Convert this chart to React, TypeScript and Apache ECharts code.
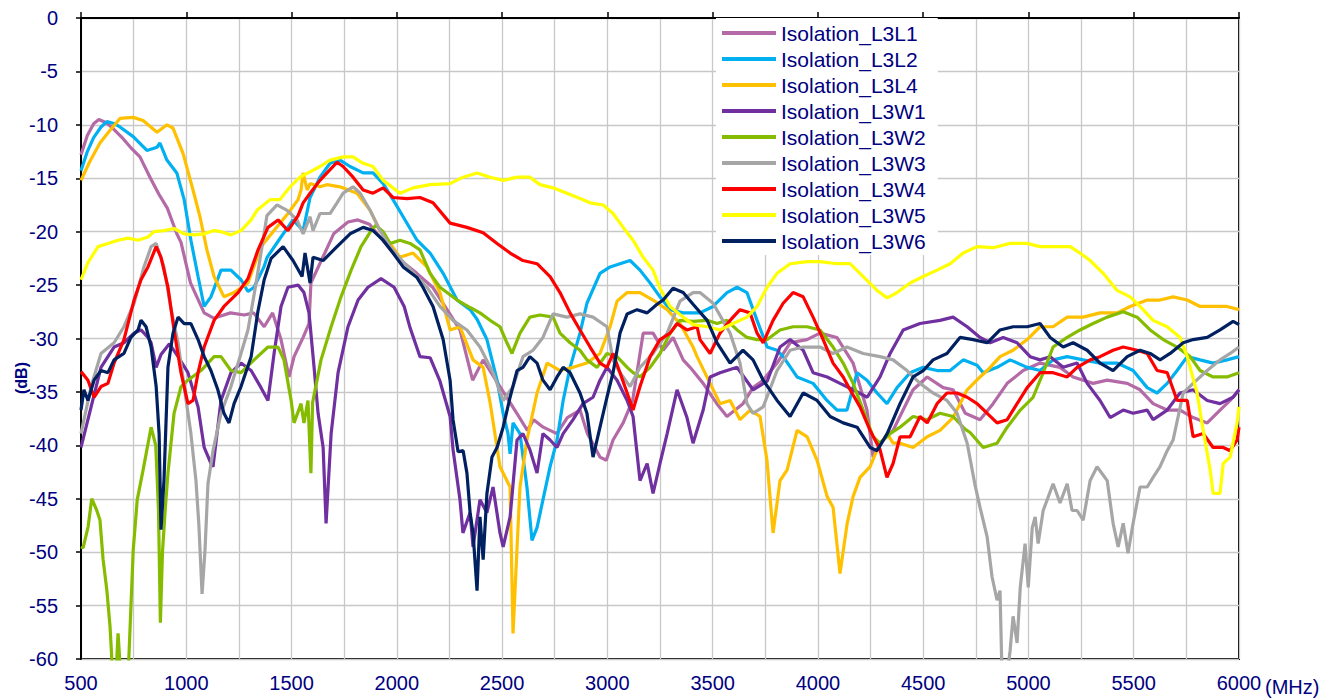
import React, { useEffect, useRef } from "react";
import * as echarts from "echarts";

type Pt = [number, number];

const seriesNames = [
  "Isolation_L3L1",
  "Isolation_L3L2",
  "Isolation_L3L4",
  "Isolation_L3W1",
  "Isolation_L3W2",
  "Isolation_L3W3",
  "Isolation_L3W4",
  "Isolation_L3W5",
  "Isolation_L3W6",
];

const seriesColors = [
  "#B36AA6",
  "#00B0F0",
  "#FFC000",
  "#7030A0",
  "#86BC00",
  "#A6A6A6",
  "#FF0000",
  "#FFFF00",
  "#002060",
];

// [MHz, dB]
const l3l1: Pt[] = [[500,-12.8],[530,-11],[560,-9.9],[585,-9.5],[620,-9.8],[650,-10.3],[700,-11.3],[735,-12.1],[780,-13],[830,-15],[870,-16.5],[910,-17.8],[955,-20.2],[975,-21],[1020,-24.8],[1085,-27.6],[1130,-28.1],[1210,-27.6],[1275,-27.8],[1320,-27.6],[1370,-28.9],[1410,-27.6],[1450,-30.1],[1488,-33.6],[1512,-31.7],[1555,-29.9],[1583,-28.6],[1592,-24.8],[1606,-24.2],[1672,-21.4],[1700,-20.2],[1768,-19.1],[1815,-18.9],[1870,-19.3],[1920,-20.5],[2000,-22.4],[2095,-23.9],[2170,-25.2],[2300,-29.2],[2360,-33.9],[2410,-32],[2490,-34.5],[2570,-37],[2620,-38.6],[2650,-37.6],[2695,-38.3],[2760,-38.9],[2810,-37.4],[2870,-36.7],[2905,-38.9],[2965,-41.1],[2995,-41.4],[3027,-39.5],[3075,-37.9],[3120,-35.8],[3170,-29.5],[3217,-29.5],[3265,-31.1],[3312,-29.9],[3360,-32],[3393,-32.7],[3455,-34.2],[3520,-36.1],[3568,-37.3],[3644,-36.1],[3692,-34.6],[3740,-33.9],[3806,-32.3],[3868,-30.4],[3948,-30.1],[4010,-29.5],[4090,-29.9],[4167,-32.3],[4233,-36.7],[4262,-41.1],[4295,-39.8],[4357,-38.6],[4452,-34.8],[4519,-33.6],[4595,-34.6],[4642,-34.8],[4700,-37],[4770,-37.6],[4832,-36.1],[4899,-34.2],[4975,-33],[5055,-32.3],[5150,-32.7],[5212,-33.6],[5307,-34.2],[5374,-33.9],[5469,-34.2],[5530,-34.8],[5592,-36.1],[5659,-36.7],[5720,-36.7],[5782,-37.4],[5849,-37.9],[5910,-36.7],[5958,-35.8],[6000,-34.8]];

const l3l2: Pt[] = [[500,-14.3],[530,-12.5],[560,-11.2],[595,-10.2],[623,-9.7],[660,-9.9],[685,-10.2],[748,-11.1],[813,-12.4],[861,-12.1],[875,-11.7],[908,-13.3],[955,-14.5],[990,-17],[1022,-20.8],[1056,-24.2],[1085,-27],[1117,-26.1],[1165,-23.6],[1212,-23.6],[1260,-24.5],[1293,-25.6],[1322,-25.2],[1369,-23.3],[1384,-22.4],[1450,-20.5],[1507,-18.9],[1555,-19.9],[1588,-16.8],[1635,-14.9],[1683,-13.6],[1730,-13.3],[1778,-13.9],[1840,-14.5],[1887,-14.5],[1935,-15.5],[1982,-17],[2030,-18.6],[2096,-20.8],[2158,-22],[2220,-23.9],[2286,-26.4],[2348,-27.3],[2381,-28.2],[2428,-30.1],[2476,-33.9],[2505,-37],[2528,-38.9],[2538,-40.8],[2552,-37.9],[2585,-38.9],[2618,-43.9],[2642,-48.9],[2666,-47.7],[2694,-45.1],[2728,-42],[2761,-39.5],[2790,-35.8],[2823,-32.7],[2870,-29.5],[2903,-26.7],[2965,-23.9],[3013,-23.3],[3060,-23],[3108,-22.7],[3155,-23.6],[3203,-24.8],[3250,-26.1],[3298,-27.3],[3360,-27.6],[3440,-27.6],[3502,-27],[3568,-25.7],[3616,-25.2],[3663,-25.7],[3711,-28.3],[3759,-30.8],[3806,-31.1],[3835,-31.7],[3901,-33.6],[3977,-34.2],[4043,-35.8],[4091,-36.7],[4138,-36.7],[4186,-33.2],[4233,-33.9],[4281,-35.1],[4328,-36.1],[4376,-34.6],[4438,-33.2],[4500,-32.7],[4566,-33],[4628,-33],[4690,-32],[4756,-32.5],[4785,-33.2],[4851,-32.7],[4913,-32],[4994,-32.7],[5055,-33],[5117,-32],[5184,-31.7],[5260,-32],[5340,-32.3],[5421,-32.3],[5497,-33],[5564,-34.6],[5611,-35.1],[5659,-34.2],[5706,-33],[5754,-31.7],[5815,-32],[5877,-32.3],[5943,-32],[6000,-31.7]];

const l3l4: Pt[] = [[500,-15.2],[540,-13.5],[590,-11.7],[638,-10.5],[685,-9.4],[748,-9.3],[795,-9.6],[861,-10.7],[908,-10],[937,-10.3],[985,-12.7],[1032,-16.1],[1065,-18.6],[1098,-21.7],[1132,-24.2],[1179,-26.1],[1227,-25.7],[1293,-24.8],[1355,-21.4],[1417,-19.9],[1483,-18.3],[1531,-17],[1545,-16.1],[1555,-14.5],[1574,-16.1],[1588,-15.5],[1635,-15.8],[1668,-15.6],[1730,-15.8],[1811,-16.4],[1873,-18],[1920,-19.9],[1968,-21.1],[2015,-22.4],[2077,-22],[2143,-23.3],[2205,-25.7],[2253,-29.2],[2300,-28.9],[2362,-32],[2410,-32.7],[2443,-36],[2490,-42],[2538,-43.9],[2552,-57.6],[2570,-50],[2585,-43.9],[2618,-39.5],[2666,-35.1],[2714,-32.3],[2775,-33],[2837,-32.7],[2903,-32.3],[2965,-31.4],[3013,-28.9],[3046,-26.5],[3094,-25.7],[3155,-25.7],[3217,-26.4],[3284,-27.3],[3345,-28.6],[3407,-30.8],[3426,-31.7],[3488,-34.2],[3535,-36.1],[3583,-35.8],[3630,-37.6],[3678,-36.7],[3725,-37.3],[3758,-41.4],[3787,-48.2],[3820,-43.3],[3854,-42.3],[3901,-38.6],[3949,-39.2],[3996,-41.4],[4044,-44.8],[4072,-45.8],[4105,-52],[4139,-47.3],[4167,-44.8],[4200,-43],[4248,-42],[4281,-40.4],[4329,-38.9],[4357,-39.8],[4390,-39.8],[4452,-40.2],[4519,-39.2],[4580,-38.6],[4642,-37.4],[4709,-34.8],[4770,-33.6],[4804,-33],[4865,-31.7],[4927,-31.1],[4994,-30.1],[5055,-28.9],[5117,-28.9],[5184,-28],[5260,-28],[5340,-27.6],[5421,-27.6],[5483,-27],[5564,-26.4],[5625,-26.4],[5687,-26.1],[5754,-26.4],[5815,-27],[5877,-27],[5943,-27],[6000,-27.3]];

const l3w1: Pt[] = [[500,-40.2],[548,-36.4],[595,-32.7],[657,-30.8],[704,-30.4],[752,-29.5],[785,-29.2],[818,-29.9],[833,-30.4],[857,-32.7],[880,-31.5],[920,-30.5],[961,-31.7],[1008,-33.2],[1056,-36.4],[1085,-40.2],[1117,-41.7],[1127,-42],[1165,-35.8],[1212,-33.2],[1260,-32.3],[1308,-33],[1355,-34.6],[1388,-35.8],[1417,-31.4],[1450,-27],[1483,-25.2],[1531,-25],[1559,-25.7],[1583,-27.6],[1607,-32.7],[1626,-37],[1650,-40.2],[1664,-47.3],[1688,-38.9],[1721,-33.2],[1768,-28.9],[1816,-26.4],[1863,-25.2],[1925,-24.4],[1987,-25.2],[2035,-27],[2063,-29],[2110,-31.7],[2158,-31.8],[2205,-34],[2253,-37.3],[2267,-40.4],[2300,-45.1],[2314,-48.2],[2348,-46.3],[2362,-49.5],[2395,-45.1],[2428,-46.3],[2457,-43.9],[2490,-48.2],[2505,-49.5],[2538,-46.7],[2571,-39.5],[2599,-38.9],[2632,-40.4],[2666,-42.6],[2694,-38.9],[2728,-39.5],[2761,-40.2],[2790,-38.9],[2837,-37.6],[2884,-36.1],[2932,-35.5],[2965,-33.9],[2998,-32.7],[3046,-33.9],[3094,-35.8],[3122,-37.3],[3155,-43.3],[3189,-41.7],[3217,-44.5],[3250,-41.7],[3284,-38.9],[3331,-34.8],[3378,-37.4],[3407,-39.8],[3455,-36.7],[3488,-33.6],[3535,-33.2],[3616,-32.7],[3692,-34.8],[3759,-34],[3820,-30.8],[3868,-30.1],[3930,-31.1],[3977,-33.2],[4044,-33.6],[4105,-34.2],[4167,-34.8],[4234,-35.5],[4295,-33.6],[4343,-31.4],[4405,-29.2],[4485,-28.6],[4580,-28.3],[4642,-28],[4709,-28.9],[4770,-29.9],[4818,-30.4],[4880,-29.9],[4946,-30.4],[5008,-31.7],[5055,-32],[5103,-31.7],[5165,-32.7],[5231,-32.3],[5279,-34.2],[5340,-35.8],[5388,-37.4],[5450,-36.7],[5497,-37],[5564,-36.7],[5592,-37.6],[5659,-36.7],[5720,-35.1],[5782,-34.8],[5849,-35.8],[5910,-36.1],[5972,-35.5],[6000,-34.8]];

const l3w2: Pt[] = [[500,-49.5],[510,-49.6],[534,-47.6],[551,-45],[575,-46.1],[590,-47],[605,-50.7],[623,-53.6],[638,-57],[652,-62],[665,-62],[676,-57.6],[690,-62],[723,-62],[748,-49.8],[767,-45.1],[795,-42.3],[833,-38.3],[855,-40],[868,-46],[877,-56.6],[887,-50],[900,-46],[913,-42.6],[942,-37],[975,-34.5],[1008,-33.9],[1070,-33],[1132,-31.7],[1165,-31.7],[1212,-33],[1260,-33.2],[1322,-32],[1388,-30.8],[1436,-30.8],[1464,-32],[1498,-35.8],[1512,-37.9],[1545,-36.1],[1559,-37.9],[1578,-35.8],[1592,-42.6],[1600,-36],[1640,-32],[1688,-28.9],[1735,-26.1],[1783,-23.6],[1830,-21.4],[1878,-19.9],[1900,-19.4],[1935,-20],[1968,-21.1],[2015,-20.8],[2063,-21.1],[2110,-21.7],[2158,-23.9],[2205,-25.2],[2286,-26.4],[2348,-27.1],[2395,-27.6],[2443,-28.3],[2490,-28.9],[2523,-30.4],[2547,-31.4],[2585,-29.5],[2632,-28],[2680,-27.8],[2742,-28],[2775,-29.5],[2823,-30.4],[2870,-31.1],[2903,-32],[2951,-32.7],[2998,-31.4],[3046,-31.7],[3094,-32.7],[3122,-33.2],[3155,-33.6],[3203,-32.7],[3250,-31.4],[3298,-29.5],[3345,-28.3],[3407,-28.4],[3474,-28.3],[3521,-28.6],[3568,-28.3],[3616,-29.2],[3663,-29.9],[3711,-30.1],[3759,-30.1],[3820,-29.2],[3882,-28.9],[3949,-28.9],[4010,-29.2],[4072,-30.8],[4120,-32.3],[4167,-34.2],[4215,-36.7],[4262,-39.2],[4295,-39.8],[4343,-38.9],[4390,-38.3],[4452,-37.3],[4519,-37.6],[4580,-37],[4642,-37.3],[4700,-38.5],[4723,-38.8],[4785,-40.2],[4851,-39.8],[4899,-38.3],[4961,-36.7],[5022,-35.5],[5070,-33.2],[5117,-30.8],[5184,-29.9],[5245,-29.2],[5307,-28.6],[5374,-28],[5450,-27.5],[5516,-28],[5578,-29.2],[5640,-30.1],[5706,-30.8],[5768,-31.7],[5815,-33],[5877,-33.6],[5943,-33.6],[6000,-33.2]];

const l3w3: Pt[] = [[500,-38.9],[548,-34.5],[595,-31.4],[657,-30.4],[704,-28.9],[752,-26.7],[799,-23.3],[833,-21.4],[857,-21.1],[894,-23.3],[928,-27.3],[961,-30.4],[990,-34.5],[1022,-38.9],[1046,-43.3],[1060,-47.5],[1075,-53.9],[1089,-49.8],[1103,-43.6],[1127,-40.5],[1165,-37],[1212,-34.5],[1260,-31.4],[1293,-29.2],[1330,-25],[1355,-22],[1383,-18.5],[1431,-17.5],[1479,-18],[1526,-18.9],[1555,-20.2],[1588,-18.6],[1602,-19.9],[1635,-18.3],[1683,-18.3],[1716,-17.3],[1745,-16.4],[1792,-15.8],[1826,-16.4],[1873,-18],[1920,-19.9],[1968,-21.4],[2015,-22.5],[2077,-23.8],[2143,-25.2],[2205,-27],[2267,-28.3],[2333,-29.2],[2395,-30.8],[2457,-33.2],[2505,-35.8],[2552,-34.5],[2599,-31.7],[2647,-31.1],[2694,-29.9],[2742,-27.7],[2808,-28],[2870,-27.7],[2932,-28],[2998,-28.9],[3027,-32],[3060,-33.2],[3108,-34.5],[3155,-32.7],[3217,-31.4],[3284,-29.5],[3345,-26.5],[3407,-25.7],[3440,-25.7],[3502,-26.7],[3583,-29.5],[3630,-32.3],[3663,-36.1],[3692,-37],[3740,-36.4],[3806,-33],[3868,-31.1],[3930,-30.8],[4010,-30.8],[4072,-31.4],[4138,-30.8],[4215,-31.4],[4295,-31.7],[4357,-32],[4423,-33],[4485,-34.2],[4547,-35.1],[4613,-35.8],[4661,-37],[4709,-39.8],[4745,-43.6],[4770,-45.8],[4804,-48.6],[4827,-52.3],[4851,-54.5],[4865,-53.6],[4875,-62],[4895,-62],[4913,-59.2],[4927,-56],[4946,-58.5],[4961,-53.3],[4984,-49.2],[4999,-53.3],[5018,-47.7],[5032,-46.7],[5046,-49.2],[5070,-46.1],[5117,-43.6],[5150,-45.4],[5184,-43.6],[5207,-46.1],[5231,-46.1],[5260,-47],[5293,-43.3],[5326,-42],[5374,-43.3],[5402,-47.3],[5426,-49.5],[5450,-47.3],[5473,-50.1],[5497,-47.3],[5530,-43.9],[5564,-43.9],[5592,-43],[5625,-42],[5659,-40.5],[5687,-39.5],[5735,-35.1],[5782,-34.2],[5849,-33],[5910,-32],[5958,-31.4],[6000,-30.8]];

const l3w4: Pt[] = [[500,-33.1],[533,-33.9],[562,-35.5],[595,-34.5],[628,-34.2],[657,-32.3],[704,-30.1],[752,-26.4],[785,-24.5],[818,-23.3],[857,-21.4],[880,-22.4],[913,-25.2],[942,-29.2],[975,-33.2],[1008,-36.1],[1032,-35.8],[1056,-33.2],[1085,-30.8],[1132,-28.3],[1179,-27],[1246,-25.7],[1293,-24.4],[1341,-21.7],[1388,-19.6],[1436,-18.9],[1483,-19.9],[1531,-18.5],[1555,-17.3],[1588,-16.4],[1635,-15.2],[1683,-14.2],[1716,-13.5],[1745,-13.9],[1792,-14.9],[1840,-16.1],[1887,-16.4],[1935,-15.9],[1982,-16.8],[2048,-16.9],[2110,-16.8],[2172,-17.3],[2253,-19.2],[2333,-19.6],[2410,-20.1],[2476,-21.1],[2538,-22],[2599,-22.7],[2666,-23],[2728,-24.2],[2775,-25.7],[2823,-27.6],[2870,-29.2],[2918,-30.8],[2965,-32.3],[2998,-32.7],[3027,-31.4],[3060,-33.2],[3094,-35.1],[3122,-36.7],[3155,-34.5],[3203,-31.7],[3250,-30.1],[3298,-29.5],[3331,-28.6],[3378,-29.2],[3426,-28.9],[3440,-30.1],[3488,-31.4],[3535,-29.5],[3583,-28.3],[3630,-27.3],[3678,-27.6],[3711,-29.5],[3740,-30.4],[3787,-28.3],[3835,-26.7],[3882,-25.7],[3930,-26.1],[3977,-28],[4025,-30.1],[4072,-32.3],[4120,-33.6],[4153,-34.8],[4200,-36.4],[4248,-38.6],[4295,-40.4],[4328,-43],[4357,-41.7],[4390,-39.2],[4438,-39.2],[4485,-37.3],[4519,-37.9],[4566,-36.1],[4613,-35.1],[4661,-35.1],[4709,-35.5],[4756,-36.1],[4804,-37],[4851,-37.9],[4899,-37.6],[4946,-36.1],[4994,-34.6],[5055,-33.2],[5117,-33.2],[5184,-33.6],[5231,-32.7],[5293,-32],[5340,-31.7],[5402,-31.1],[5450,-30.8],[5516,-31.1],[5564,-31.4],[5611,-33],[5659,-33.2],[5706,-35.8],[5754,-35.8],[5782,-39.2],[5830,-38.9],[5877,-40.2],[5925,-40.2],[5958,-40.5],[5991,-39.5],[6000,-38.3]];

const l3w5: Pt[] = [[500,-24.5],[533,-22.9],[581,-21.4],[628,-21.1],[676,-20.8],[723,-20.6],[771,-20.8],[818,-20.5],[847,-20],[894,-19.9],[942,-19.7],[990,-20.2],[1037,-20.3],[1085,-20.2],[1132,-19.9],[1165,-20],[1212,-20.3],[1260,-19.9],[1308,-18.9],[1336,-18],[1398,-17],[1445,-17],[1493,-15.8],[1540,-14.9],[1588,-14.4],[1635,-13.9],[1683,-13.3],[1745,-13],[1792,-13],[1840,-13.6],[1887,-13.9],[1935,-15.2],[1982,-15.9],[2015,-16.4],[2077,-15.9],[2158,-15.6],[2253,-15.5],[2315,-14.9],[2381,-14.5],[2443,-14.9],[2505,-15.2],[2571,-14.9],[2632,-14.9],[2680,-15.6],[2742,-15.9],[2808,-16.4],[2870,-16.9],[2918,-17.3],[2980,-17.5],[3027,-18.3],[3075,-19.6],[3122,-20.8],[3170,-22.4],[3217,-23.6],[3250,-25.3],[3298,-27],[3360,-28],[3407,-28.7],[3474,-28.9],[3535,-29.2],[3597,-28.6],[3663,-28],[3711,-27],[3759,-25.2],[3806,-23.9],[3868,-23],[3949,-22.8],[4010,-22.8],[4091,-23],[4153,-23],[4215,-24.2],[4281,-25.5],[4329,-26.2],[4376,-25.7],[4438,-24.8],[4500,-24.2],[4566,-23.6],[4628,-23],[4690,-22],[4756,-21.4],[4832,-21.5],[4913,-21.1],[4994,-21.1],[5055,-21.4],[5117,-21.4],[5198,-21.4],[5245,-22],[5293,-22.7],[5355,-23.9],[5421,-25.5],[5483,-26.1],[5530,-27],[5592,-28.3],[5659,-28.9],[5720,-29.9],[5754,-31.7],[5801,-35.1],[5830,-38.6],[5863,-42.3],[5877,-44.5],[5910,-44.5],[5925,-41.7],[5958,-41.1],[5991,-37.9],[6000,-36.4]];

const l3w6: Pt[] = [[500,-36.7],[514,-34.8],[533,-35.8],[562,-33.9],[595,-33],[628,-33.2],[657,-32],[704,-31.4],[737,-29.9],[771,-29.2],[785,-28.3],[809,-28.9],[833,-30.8],[857,-34.5],[871,-38.9],[880,-47.9],[894,-43.3],[913,-32.7],[937,-29.5],[961,-28],[990,-28.6],[1022,-28.6],[1056,-30.1],[1085,-31.7],[1117,-33],[1150,-34.8],[1179,-37],[1203,-37.9],[1227,-36.1],[1260,-34.5],[1308,-31.7],[1340,-27.5],[1370,-24.5],[1403,-22.5],[1460,-21.4],[1507,-22.7],[1550,-24.2],[1564,-22],[1588,-24.8],[1602,-22.4],[1650,-22.7],[1716,-21.4],[1778,-20.2],[1840,-19.6],[1887,-19.9],[1935,-20.8],[1982,-22],[2030,-23.3],[2096,-24.3],[2124,-25.2],[2172,-27],[2220,-30.1],[2253,-33.9],[2267,-37.6],[2291,-40.6],[2315,-40.5],[2333,-42.6],[2348,-46.3],[2362,-48.2],[2381,-53.6],[2395,-46.7],[2410,-50.7],[2428,-44.5],[2452,-41.1],[2476,-40.2],[2505,-38.3],[2538,-35.5],[2571,-33],[2599,-32.7],[2632,-31.7],[2666,-32.3],[2694,-33.9],[2728,-34.8],[2761,-33.6],[2790,-32.7],[2823,-33.2],[2870,-35.1],[2903,-37],[2932,-41.1],[2965,-38.3],[2998,-35.5],[3027,-33.2],[3060,-29.5],[3094,-27.7],[3141,-27.3],[3189,-27.6],[3236,-26.8],[3265,-26.4],[3312,-25.3],[3360,-25.7],[3407,-26.8],[3474,-28.3],[3521,-30.4],[3583,-32.3],[3644,-31.1],[3692,-32],[3740,-33.9],[3806,-35.8],[3868,-37.3],[3930,-35.1],[3996,-35.8],[4058,-37.3],[4120,-37.9],[4186,-38.3],[4248,-40.2],[4281,-40.5],[4329,-38.9],[4390,-36.1],[4452,-33.6],[4500,-33],[4547,-32],[4613,-31.4],[4675,-29.9],[4737,-30.1],[4804,-30.4],[4865,-29.2],[4927,-28.9],[4994,-28.9],[5055,-28.6],[5103,-29.9],[5165,-30.8],[5212,-30.4],[5279,-31.1],[5340,-32.3],[5402,-33],[5469,-31.7],[5530,-31.1],[5578,-31.4],[5625,-32],[5673,-31.4],[5735,-30.4],[5782,-30.1],[5849,-29.9],[5910,-29.2],[5972,-28.4],[6000,-28.7]];

const seriesData: Pt[][] = [l3l1, l3l2, l3l4, l3w1, l3w2, l3w3, l3w4, l3w5, l3w6];

const FONT = "'Liberation Sans', Arial, sans-serif";
const TEXT_COLOR = "#000080";
const GRID_COLOR = "#C8C8C8";

export default function App() {
  const ref = useRef<HTMLDivElement>(null);

  useEffect(() => {
    if (!ref.current) return;
    const chart = echarts.init(ref.current, null, { renderer: "svg" });
    chart.setOption({
      animation: false,
      backgroundColor: "#ffffff",
      textStyle: { fontFamily: FONT },
      grid: {
        left: 81,
        top: 18,
        width: 1158,
        height: 641,
        show: true,
        borderColor: "#000",
        borderWidth: 2,
        backgroundColor: "transparent",
      },
      xAxis: {
        type: "value",
        min: 500,
        max: 6000,
        interval: 500,
        axisLine: { show: true, lineStyle: { color: "#000", width: 2 } },
        axisTick: { show: true, inside: true, length: 6, lineStyle: { color: "#000", width: 1.5 } },
        axisLabel: {
          color: TEXT_COLOR,
          fontSize: 20,
          margin: 14,
          fontFamily: FONT,
          formatter: (v: number) => String(v),
        },
        splitLine: { show: true, lineStyle: { color: GRID_COLOR, width: 1.3 } },
        minorTick: { show: false, splitNumber: 2 },
        minorSplitLine: { show: true, lineStyle: { color: GRID_COLOR, width: 1.3 } },
      },
      yAxis: {
        type: "value",
        min: -60,
        max: 0,
        interval: 5,
        axisLine: { show: true, lineStyle: { color: "#000", width: 2 } },
        axisTick: { show: true, inside: false, length: 5, lineStyle: { color: "#000", width: 1.5 } },
        axisLabel: {
          color: TEXT_COLOR,
          fontSize: 20,
          margin: 23,
          fontFamily: FONT,
          formatter: (v: number) => String(v),
        },
        splitLine: { show: true, lineStyle: { color: GRID_COLOR, width: 1.3 } },
      },
      legend: {
        orient: "vertical",
        left: 716,
        top: 18,
        backgroundColor: "#ffffff",
        padding: [4, 12, 3, 6],
        itemWidth: 54,
        itemHeight: 4,
        itemGap: 4,
        icon: "rect",
        textStyle: { color: TEXT_COLOR, fontSize: 21, lineHeight: 22, fontFamily: FONT },
        data: seriesNames,
      },
      graphic: [
        {
          type: "text",
          x: 1265,
          y: 687,
          style: {
            text: "(MHz)",
            fill: TEXT_COLOR,
            fontSize: 20,
            fontFamily: FONT,
            align: "left",
            verticalAlign: "middle",
          },
        },
        {
          type: "text",
          x: 21,
          y: 378,
          rotation: Math.PI / 2,
          style: {
            text: "(dB)",
            fill: TEXT_COLOR,
            fontSize: 16,
            fontWeight: "bold",
            fontFamily: FONT,
            align: "center",
            verticalAlign: "middle",
          },
        },
      ],
      series: seriesNames.map((name, i) => ({
        name,
        type: "line",
        data: seriesData[i],
        showSymbol: false,
        symbol: "none",
        clip: true,
        color: seriesColors[i],
        lineStyle: { width: 3.2, color: seriesColors[i] },
        emphasis: { disabled: true },
      })),
    });
    return () => chart.dispose();
  }, []);

  return (
    <div
      ref={ref}
      style={{ position: "fixed", left: 0, top: 0, width: 1337, height: 699, background: "#fff" }}
    />
  );
}
